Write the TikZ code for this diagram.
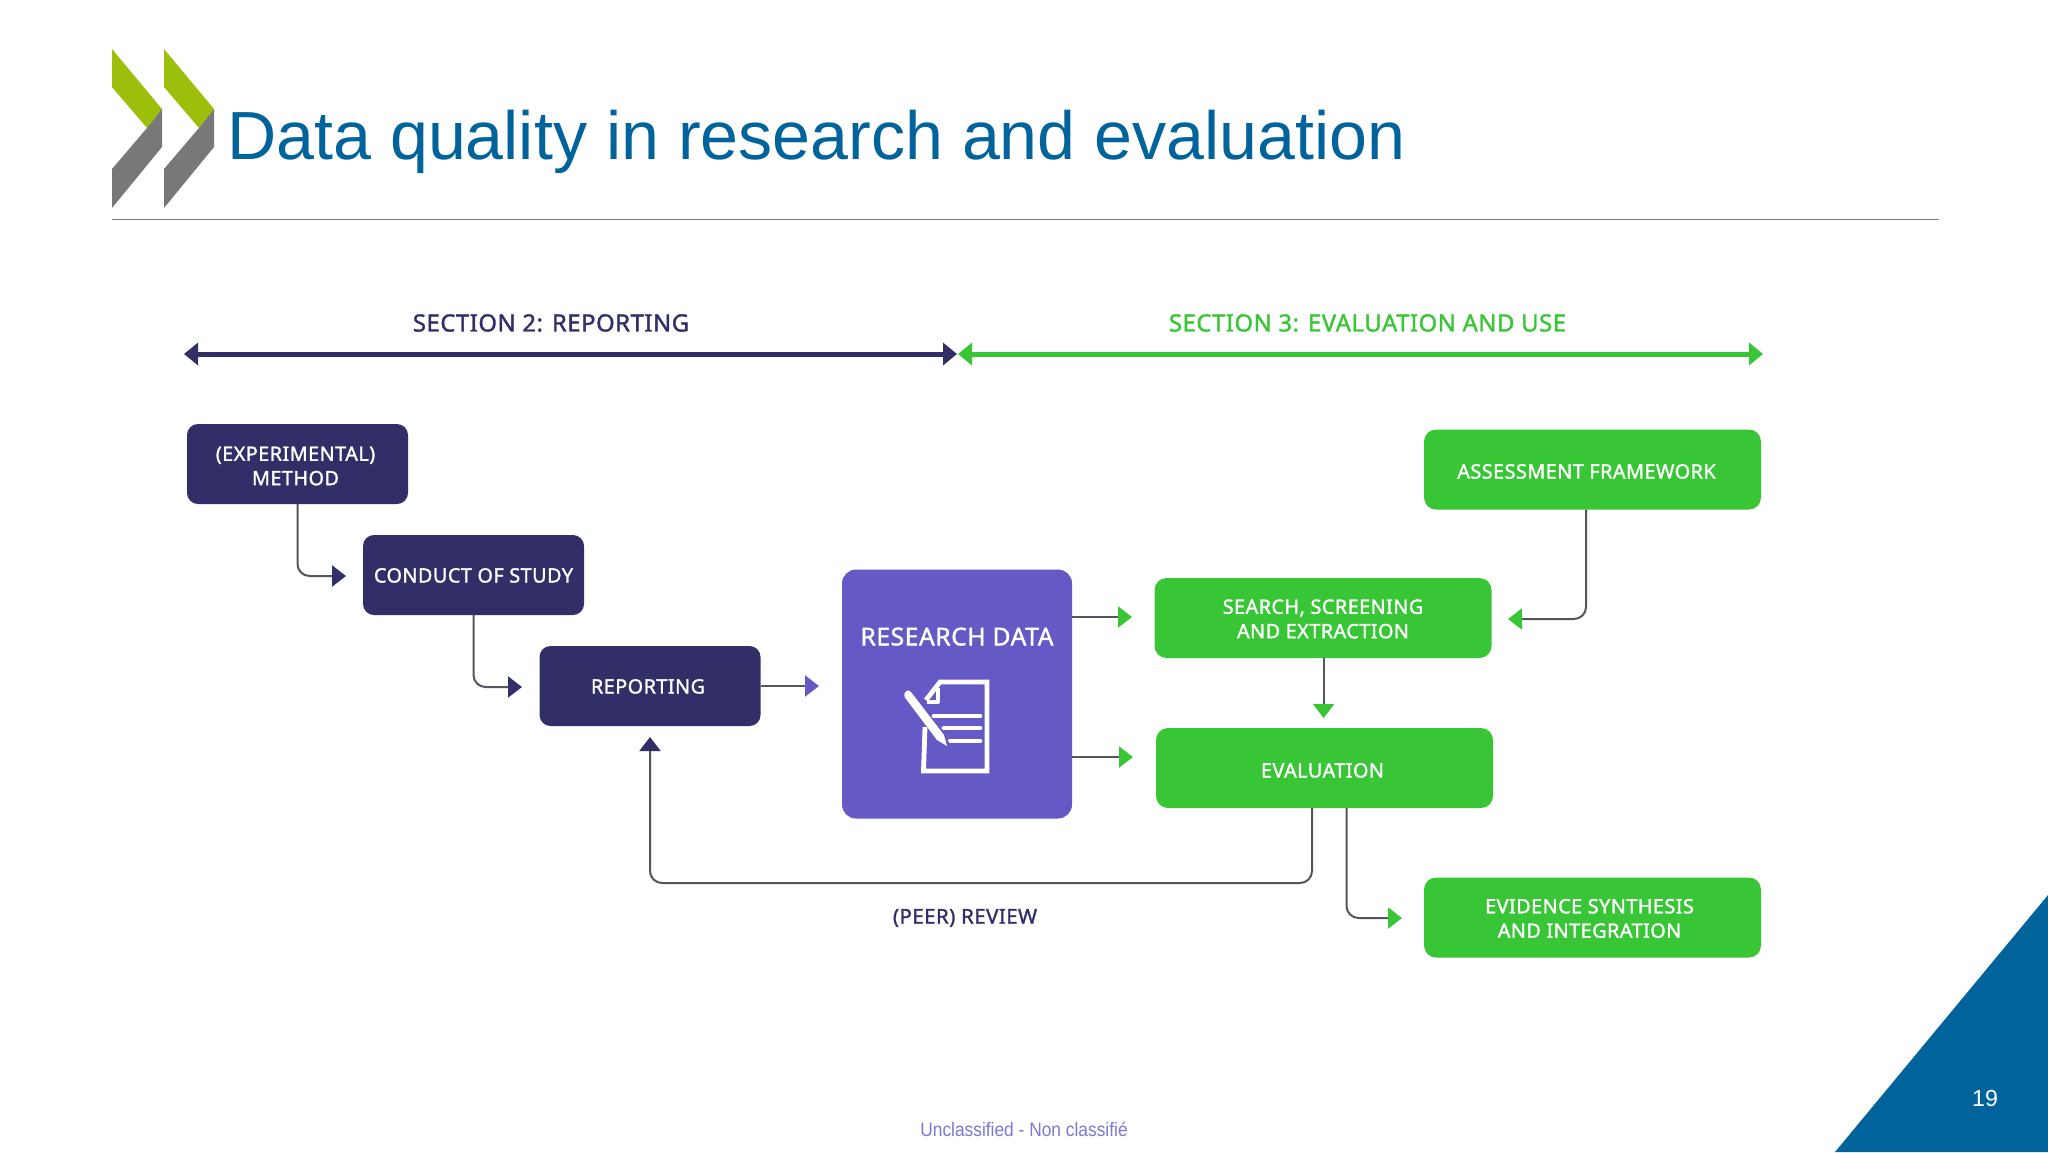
\documentclass[tikz,border=0pt]{standalone}
\usepackage{fontspec}
\usetikzlibrary{arrows.meta}
\setmainfont{Liberation Sans}
\newfontfamily\diafont[FakeBold=1.4,LetterSpace=2.4]{Noto Sans}
\newfontfamily\narrowfoot[FakeStretch=0.89]{Liberation Sans}
\definecolor{navy}{HTML}{322F68}
\definecolor{violet}{HTML}{6559C5}
\definecolor{leaf}{HTML}{39C636}
\definecolor{oecdblue}{HTML}{00639C}
\definecolor{oecdgreen}{HTML}{9CBF0B}
\definecolor{oecdgray}{HTML}{787878}
\definecolor{wire}{HTML}{555560}
\definecolor{footviolet}{HTML}{7B78D8}
\newcommand\nudge[3]{\makebox[0pt]{\hspace*{#1}\raisebox{\dimexpr #2-.36em\relax}[0pt][0pt]{\begin{tabular}[c]{@{}c@{}}#3\end{tabular}}}}
\tikzset{
  boxbase/.style={inner sep=0pt,outer sep=0pt,text=white,font=\diafont\fontsize{9.9}{12.2}\selectfont,rounded corners=5.5pt},
  navybox/.style={boxbase,fill=navy,minimum width=110.5pt,minimum height=40pt},
  greenbox/.style={boxbase,fill=leaf,minimum width=168.5pt,minimum height=40pt,rounded corners=6pt},
  databox/.style={boxbase,fill=violet,minimum width=115pt,minimum height=124.5pt,rounded corners=7pt},
  conn/.style={draw=wire,line width=1pt,rounded corners=6pt},
  navytip/.style={conn,-{Triangle[length=7pt,width=10.5pt,color=navy,fill=navy]}},
  violettip/.style={conn,-{Triangle[length=7pt,width=10.5pt,color=violet,fill=violet]}},
  greentip/.style={conn,-{Triangle[length=7pt,width=10.5pt,color=leaf,fill=leaf]}},
  bigspan/.style={line width=2.5pt},
  sectionlabel/.style={inner sep=0pt,font=\diafont\fontsize{11.9}{13}\selectfont},
  iconline/.style={draw=white,line width=2.4pt,line cap=round}
}
\begin{document}
\begin{tikzpicture}[x=0.5pt,y=-0.5pt]
\useasboundingbox (0,0) rectangle (2048,1152);
\fill[white] (0,0) rectangle (2048,1152);
% logo
\foreach \dx in {0,52}{
  \fill[oecdgreen] (112+\dx,49) -- (162+\dx,109) -- (147+\dx,128) -- (112+\dx,87) -- cycle;
  \fill[oecdgray] (162+\dx,109) -- (162+\dx,147) -- (112+\dx,208) -- (112+\dx,169) -- (147+\dx,128) -- cycle;
}
\node[anchor=base west,inner sep=0pt,text=oecdblue,font=\fontsize{34.07}{36}\selectfont] (title) at (227,159) {Data quality in research and evaluation};
\draw[draw=oecdgray,line width=0.5pt] (112,219) -- (1939,219);
% corner
\fill[oecdblue] (1835,1152) -- (2048,895) -- (2048,1152) -- cycle;
\node[text=white,inner sep=0pt,font=\fontsize{11.6}{13}\selectfont] (pagenum) at (1985,1098) {19};
\node[text=footviolet,inner sep=0pt,font=\narrowfoot\fontsize{9.75}{12}\selectfont] (foot) at (1024,1129) {Unclassified - Non classifié};
% section spans
\node[sectionlabel,text=navy] (sec2) at (551,323) {SECTION 2: REPORTING};
\node[sectionlabel,text=leaf] (sec3) at (1367.5,323) {SECTION 3: EVALUATION AND USE};
\coordinate (s2l) at (184,354); \coordinate (s2r) at (957,354);
\coordinate (s3l) at (958,354); \coordinate (s3r) at (1763,354);
\draw[draw=navy,bigspan,{Triangle[length=7pt,width=11pt]}-{Triangle[length=7pt,width=11pt]}] (s2l) -- (s2r);
\draw[draw=leaf,fill=leaf,bigspan,{Triangle[length=7pt,width=11pt]}-{Triangle[length=7pt,width=11pt]}] (s3l) -- (s3r);
% boxes
\node[navybox] (exp) at (297.5,464) {\nudge{-2pt}{-1pt}{(EXPERIMENTAL)\\METHOD}};
\node[navybox] (study) at (473.5,575) {\nudge{0pt}{-0.25pt}{CONDUCT OF STUDY}};
\node[navybox] (rep) at (650,686) {\nudge{-2pt}{-0.25pt}{REPORTING}};
\node[databox] (data) at (957,694) {\nudge{0pt}{28pt}{\fontsize{12.3}{14}\selectfont RESEARCH DATA}};
\node[greenbox] (assess) at (1592.5,469.5) {\nudge{-6pt}{-1pt}{ASSESSMENT FRAMEWORK}};
\node[greenbox] (search) at (1323,618) {\nudge{0pt}{-0.5pt}{SEARCH, SCREENING\\AND EXTRACTION}};
\node[greenbox] (eval) at (1324.5,768) {\nudge{-2pt}{-1.25pt}{EVALUATION}};
\node[greenbox] (synth) at (1592.5,917.5) {\nudge{-3pt}{-0.5pt}{EVIDENCE SYNTHESIS\\AND INTEGRATION}};
\node[inner sep=0pt,text=navy,font=\diafont\fontsize{10.2}{12}\selectfont] (peer) at (965,918) {(PEER) REVIEW};
% free ends
\coordinate (t1) at (346,576);
\coordinate (t2) at (522,687);
\coordinate (t3) at (819,686);
\coordinate (t4) at (1132,617);
\coordinate (t5) at (1133,757);
\coordinate (t6) at (1508,619);
\coordinate (t7) at (1323.6,718);
\coordinate (t8) at (650,737);
\coordinate (t9) at (1402,918);
% connectors
\draw[navytip] (exp.south) |- (t1);
\draw[navytip] (study.south) |- (t2);
\draw[violettip] (rep.east |- t3) -- (t3);
\draw[greentip] (data.east |- t4) -- (t4);
\draw[greentip] (data.east |- t5) -- (t5);
\draw[greentip] (assess.south -| 1586,509) |- (t6);
\draw[greentip] (search.south -| t7) -- (t7);
\draw[navytip] (1312,808) coordinate (e1) -- (1312,883) -- (650,883) -- (t8);
\draw[greentip] (1346.5,808) coordinate (e2) |- (t9);
% document icon
\draw[draw=white,line width=2.4pt,line join=miter] (925,727) -- (923.5,771) -- (987,771) -- (987,682) -- (940,682) -- (926,700);
\draw[draw=white,line width=2pt,line join=round] (938,688) -- (938,702) -- (927,702);
\draw[iconline] (934,716) -- (980,716);
\draw[iconline] (944,728) -- (980,728);
\draw[iconline] (950,741) -- (980,741);
\fill[violet] (903,695) -- (910,688) -- (953,748) -- (945,752) -- cycle;
\fill[white] (904.5,697) .. controls (903,692) and (908,688) .. (911,692) -- (944,735) -- (947,746) -- (937,740) -- cycle;
\end{tikzpicture}
\end{document}
